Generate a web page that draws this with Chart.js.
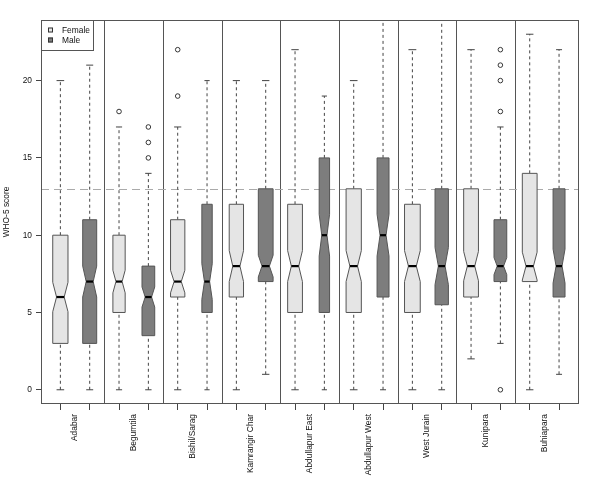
<!DOCTYPE html>
<html>
<head>
<meta charset="utf-8">
<script src="https://cdn.jsdelivr.net/npm/chart.js@4.4.1/dist/chart.umd.min.js"></script>
<style>
  html, body { margin: 0; padding: 0; background: #fff; }
  #wrap { width: 600px; height: 480px; }
</style>
</head>
<body>
<div id="wrap"><canvas id="whoChart" width="600" height="480"></canvas></div>
<script>
// WHO-5 score by area and sex (notched boxplots)

const regions = ['Adabar', 'Begumtila', 'Bishil/Sarag', 'Kamrangir Char', 'Abdullapur East',
  'Abdullapur West', 'West Jurain', 'Kunipara', 'Buhiapara'];
const seriesNames = ['Female', 'Male'];

// [lower whisker, Q1, median, Q3, upper whisker]
const femaleBox = [[0, 3, 6, 10, 20], [0, 5, 7, 10, 17], [0, 6, 7, 11, 17], [0, 6, 8, 12, 20], [0, 5, 8, 12, 22],
  [0, 5, 8, 13, 20], [0, 5, 8, 12, 22], [2, 6, 8, 13, 22], [0, 7, 8, 14, 23]];
const maleBox = [[0, 3, 7, 11, 21], [0, 3.5, 6, 8, 14], [0, 5, 7, 12, 20], [1, 7, 8, 13, 20], [0, 5, 10, 15, 19],
  [0, 6, 10, 15, 25], [0, 5.5, 8, 13, 25], [3, 7, 8, 11, 17], [1, 6, 8, 13, 22]];
// notch half-height around the median
const femaleNotch = [0.95, 0.73, 0.73, 1.0, 1.0, 1.0, 1.0, 0.95, 0.9];
const maleNotch = [1.0, 0.65, 1.15, 0.7, 1.35, 1.35, 1.2, 0.55, 1.1];
// relative box widths (varwidth ~ sqrt(n))
const femaleWidth = [0.97, 0.78, 0.91, 0.91, 0.94, 0.97, 1.0, 0.94, 0.94];
const maleWidth = [0.89, 0.81, 0.66, 0.94, 0.66, 0.76, 0.85, 0.81, 0.76];
// outliers
const femaleOut = [[], [18], [22, 19], [], [], [], [], [], []];
const maleOut = [[], [17, 16, 15], [], [], [], [], [], [22, 21, 20, 18, 0], []];
const yTicks = [0, 5, 10, 15, 20];
const cutoff = 13;

const FONT = 'Liberation Sans, Arial, sans-serif';
const fills = ['#e5e5e5', '#7d7d7d'];

const outPoints = [];
regions.forEach((r, i) => {
  femaleOut[i].forEach(v => outPoints.push({ x: 2 * i + 1, y: v }));
  maleOut[i].forEach(v => outPoints.push({ x: 2 * i + 2, y: v }));
});

function drawSeries(ctx, x, y, boxes, notches, widths, offset, fill) {
  boxes.forEach((s, i) => {
    const cx = 2 * i + offset;
    const w = 0.268 * widths[i];
    const px = v => x.getPixelForValue(v);
    const py = v => y.getPixelForValue(v);
    const lo = s[2] - notches[i], hi = s[2] + notches[i];

    // whiskers
    ctx.strokeStyle = '#444';
    ctx.lineWidth = 1;
    ctx.setLineDash([3, 3]);
    ctx.beginPath();
    ctx.moveTo(px(cx), py(s[0])); ctx.lineTo(px(cx), py(s[1]));
    ctx.moveTo(px(cx), py(s[3])); ctx.lineTo(px(cx), py(s[4]));
    ctx.stroke();
    ctx.setLineDash([]);
    ctx.beginPath();
    ctx.moveTo(px(cx - w * 0.5), py(s[0])); ctx.lineTo(px(cx + w * 0.5), py(s[0]));
    ctx.moveTo(px(cx - w * 0.5), py(s[4])); ctx.lineTo(px(cx + w * 0.5), py(s[4]));
    ctx.stroke();

    // notched box
    const pts = [[-1, s[1]], [1, s[1]], [1, lo], [0.5, s[2]], [1, hi], [1, s[3]],
      [-1, s[3]], [-1, hi], [-0.5, s[2]], [-1, lo]];
    ctx.beginPath();
    pts.forEach((p, k) => {
      const X = px(cx + p[0] * w), Y = py(p[1]);
      if (k === 0) ctx.moveTo(X, Y); else ctx.lineTo(X, Y);
    });
    ctx.closePath();
    ctx.fillStyle = fill;
    ctx.fill();
    ctx.strokeStyle = '#555';
    ctx.stroke();

    // median
    ctx.strokeStyle = '#000';
    ctx.lineWidth = 2.2;
    ctx.beginPath();
    ctx.moveTo(px(cx - w * 0.5), py(s[2]));
    ctx.lineTo(px(cx + w * 0.5), py(s[2]));
    ctx.stroke();
  });
}

const boxPlugin = {
  id: 'boxes',
  beforeDatasetsDraw(chart) {
    const { ctx, chartArea: a, scales: { x, y } } = chart;
    ctx.save();
    ctx.beginPath();
    ctx.rect(a.left, a.top, a.right - a.left, a.bottom - a.top);
    ctx.clip();

    // separators between areas
    ctx.strokeStyle = '#555';
    ctx.lineWidth = 1;
    for (let i = 1; i < regions.length; i++) {
      const px = Math.round(x.getPixelForValue(2 * i + 0.5)) + 0.5;
      ctx.beginPath();
      ctx.moveTo(px, a.top);
      ctx.lineTo(px, a.bottom);
      ctx.stroke();
    }

    // cut-off line
    ctx.strokeStyle = '#aaa';
    ctx.setLineDash([8, 5]);
    const cy = Math.round(y.getPixelForValue(cutoff)) + 0.5;
    ctx.beginPath();
    ctx.moveTo(a.left, cy);
    ctx.lineTo(a.right, cy);
    ctx.stroke();
    ctx.setLineDash([]);

    drawSeries(ctx, x, y, femaleBox, femaleNotch, femaleWidth, 1, fills[0]);
    drawSeries(ctx, x, y, maleBox, maleNotch, maleWidth, 2, fills[1]);
    ctx.restore();
  },
  afterDatasetsDraw(chart) {
    const { ctx, chartArea: a } = chart;
    ctx.save();
    ctx.strokeStyle = '#555';
    ctx.lineWidth = 1;
    ctx.strokeRect(a.left + 0.5, a.top + 0.5, a.right - a.left - 1, a.bottom - a.top - 1);

    // legend
    ctx.fillStyle = '#fff';
    ctx.fillRect(a.left + 0.5, a.top + 0.5, 52, 30);
    ctx.strokeRect(a.left + 0.5, a.top + 0.5, 52, 30);
    ctx.font = '8.4px ' + FONT;
    ctx.textBaseline = 'middle';
    seriesNames.forEach((n, k) => {
      const yy = a.top + 10 + k * 10;
      ctx.fillStyle = fills[k];
      ctx.fillRect(a.left + 7, yy - 2.5, 5, 5);
      ctx.strokeStyle = '#333';
      ctx.strokeRect(a.left + 7.5, yy - 2, 4, 4);
      ctx.fillStyle = '#111';
      ctx.fillText(n, a.left + 21, yy + 0.5);
    });
    ctx.restore();
  }
};

const xTickVals = [];
for (let p = 1; p <= 18; p++) xTickVals.push(p);
regions.forEach((r, i) => xTickVals.push(2 * i + 1.5));
xTickVals.sort((a, b) => a - b);

new Chart(document.getElementById('whoChart'), {
  type: 'scatter',
  data: {
    datasets: [{
      label: 'outliers',
      data: outPoints,
      pointStyle: 'circle',
      pointRadius: 2.3,
      backgroundColor: 'rgba(0,0,0,0)',
      borderColor: '#222',
      borderWidth: 0.9
    }]
  },
  options: {
    responsive: false,
    animation: false,
    layout: { padding: { top: 20, right: 21, left: 0, bottom: 0 } },
    plugins: { legend: { display: false }, tooltip: { enabled: false } },
    scales: {
      x: {
        type: 'linear',
        min: 0.34,
        max: 18.68,
        afterBuildTicks: s => { s.ticks = xTickVals.map(v => ({ value: v })); },
        afterFit: s => { s.height = 76; },
        border: { display: false },
        grid: {
          drawOnChartArea: false,
          drawTicks: true,
          tickLength: 6,
          color: c => (c.tick && Number.isInteger(c.tick.value)) ? '#444' : 'rgba(0,0,0,0)'
        },
        ticks: {
          autoSkip: false,
          minRotation: 90,
          maxRotation: 90,
          padding: 4,
          color: '#111',
          font: { family: FONT, size: 8.4 },
          callback: v => Number.isInteger(v) ? '' : regions[Math.floor(v / 2)]
        }
      },
      y: {
        type: 'linear',
        min: -0.92,
        max: 23.92,
        afterBuildTicks: s => { s.ticks = yTicks.map(v => ({ value: v })); },
        afterFit: s => { s.width = 41; },
        border: { display: false },
        grid: { drawOnChartArea: false, drawTicks: true, tickLength: 5, color: '#444' },
        ticks: { padding: 4, color: '#111', font: { family: FONT, size: 8.4 } },
        title: { display: true, text: 'WHO-5 score', color: '#111', font: { family: FONT, size: 8.4 }, padding: { top: 1.5, bottom: 0 } }
      }
    }
  },
  plugins: [boxPlugin]
});
</script>
</body>
</html>
